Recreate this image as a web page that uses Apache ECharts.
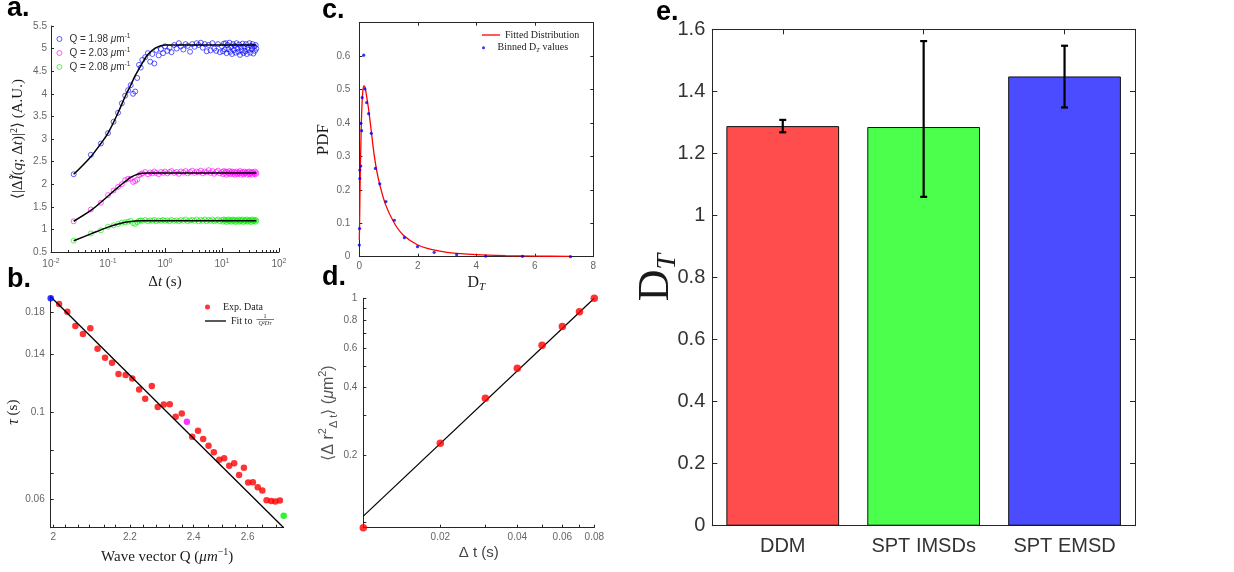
<!DOCTYPE html>
<html>
<head>
<meta charset="utf-8">
<script src="https://cdn.jsdelivr.net/npm/echarts@6.0.0/dist/echarts.min.js"></script>
<style>
html,body{margin:0;padding:0;background:#fff;}
#chart{width:1234px;height:572px;}
</style>
</head>
<body>
<div id="chart"></div>
<script>
// ================= Panel a: structure function vs lag time =================
const aLag = [0.025,0.05,0.075,0.1,0.125,0.15,0.175,0.2,0.225,0.25,
  0.275,0.3,0.325,0.35,0.375,0.4,0.45,0.5,0.55,0.6,
  0.65,0.7,0.775,0.85,0.925,1.0,1.1,1.2,1.3,1.45,
  1.6,1.75,1.9,2.1,2.3,2.5,2.75,3.0,3.3,3.6,
  3.9,4.25,4.6,5.0,5.4,5.85,6.3,6.8,7.3,7.9,
  8.5,9.2,
  10,10.4,10.8,11.2,11.6,12,12.5,13,13.5,14,
  14.5,15,15.6,16.2,16.8,17.4,18,18.6,19.3,20,
  20.7,21.4,22.2,23,23.8,24.6,25.5,26.4,27.3,28.2,
  29.2,30.2,31.2,32.2,33.3,34.4,35.5,36.6,37.8,39,40];
const aBlue = [2.22,2.65,2.90,3.13,3.38,3.58,3.79,3.96,4.08,4.19,
  4.00,4.05,4.35,4.64,4.58,4.75,4.81,4.90,4.71,4.88,
  4.67,4.97,4.85,4.99,4.90,5.05,4.95,5.02,4.92,5.08,
  5.00,5.12,5.05,4.98,5.10,5.06,4.93,5.10,5.04,5.12,
  5.08,5.13,5.02,5.10,4.94,5.08,4.96,5.12,5.00,4.95,
  5.10,4.92,
  5.05,4.94,5.11,4.98,5.12,4.90,5.08,4.99,5.13,4.93,
  5.04,4.88,5.10,4.97,5.06,4.91,5.12,5.00,4.93,5.09,
  4.86,5.03,4.96,5.11,4.90,5.05,4.94,5.10,4.88,5.02,
  4.97,5.12,4.91,5.06,4.99,5.10,4.89,5.04,4.95,5.08,5.00];
const aMagenta = [1.18,1.44,1.59,1.76,1.86,1.94,2.00,2.09,2.12,2.12,
  2.05,2.07,2.10,2.20,2.22,2.24,2.27,2.22,2.26,2.24,
  2.28,2.25,2.22,2.27,2.25,2.28,2.24,2.27,2.29,2.25,
  2.27,2.23,2.28,2.26,2.29,2.24,2.27,2.30,2.25,2.28,
  2.26,2.30,2.24,2.28,2.26,2.31,2.25,2.29,2.23,2.27,
  2.30,2.24,
  2.27,2.22,2.29,2.25,2.28,2.21,2.27,2.24,2.29,2.22,
  2.26,2.28,2.23,2.27,2.21,2.25,2.28,2.22,2.26,2.24,
  2.29,2.21,2.25,2.27,2.22,2.28,2.24,2.26,2.21,2.27,
  2.23,2.28,2.22,2.25,2.27,2.21,2.26,2.23,2.28,2.22,2.25];
const aGreen = [0.75,0.91,0.98,1.06,1.09,1.12,1.15,1.16,1.17,1.19,
  1.14,1.12,1.16,1.19,1.20,1.19,1.21,1.18,1.20,1.19,
  1.21,1.18,1.20,1.19,1.21,1.19,1.20,1.18,1.21,1.19,
  1.20,1.18,1.21,1.19,1.22,1.18,1.20,1.21,1.19,1.22,
  1.18,1.21,1.19,1.22,1.18,1.21,1.19,1.22,1.18,1.20,
  1.22,1.18,
  1.21,1.17,1.22,1.19,1.21,1.16,1.20,1.22,1.18,1.21,
  1.17,1.20,1.22,1.18,1.21,1.16,1.20,1.19,1.22,1.17,
  1.21,1.18,1.20,1.22,1.16,1.19,1.21,1.18,1.22,1.17,
  1.20,1.19,1.21,1.16,1.20,1.22,1.18,1.19,1.21,1.17,1.20];
const aFitLag = [0.025,0.05,0.075,0.1,0.15,0.2,0.25,0.3,0.4,0.5,0.7,1,2,40];
const aFitBlue = [2.22,2.61,2.90,3.13,3.58,3.94,4.19,4.40,4.68,4.87,5.02,5.08,5.08,5.08];
const aFitMagenta = [1.18,1.42,1.60,1.74,1.93,2.06,2.15,2.20,2.24,2.25,2.25,2.25,2.25,2.25];
const aFitGreen = [0.75,0.90,0.99,1.05,1.12,1.16,1.175,1.185,1.19,1.19,1.19,1.19,1.19,1.19];
const aSeriesNames = ['Q = 1.98','Q = 2.03','Q = 2.08'];
const aMinorTicks = [0.02,0.03,0.04,0.05,0.06,0.07,0.08,0.09,
  0.2,0.3,0.4,0.5,0.6,0.7,0.8,0.9,2,3,4,5,6,7,8,9,20,30,40,50,60,70,80,90];

// ================= Panel b: decay time vs wave vector =================
const bQ = [1.994,2.014,2.034,2.054,2.073,2.092,2.111,2.131,2.150,2.168,
  2.188,2.207,2.227,2.245,2.265,2.283,2.302,2.321,2.340,2.360,
  2.377,2.395,2.415,2.433,2.452,2.471,2.491,2.509,2.528,2.547,
  2.566,2.585,2.602,2.621,2.641,2.660,2.678,2.698,2.716,2.736,2.753];
const bTau = [0.1947,0.1883,0.1800,0.1655,0.1580,0.1634,0.1449,0.1375,0.1335,0.1250,
  0.1243,0.1217,0.1141,0.1081,0.1166,0.1031,0.1046,0.1047,0.0973,0.0992,
  0.0945,0.0866,0.0896,0.0854,0.0821,0.0790,0.0756,0.0763,0.0730,0.0741,
  0.0692,0.0722,0.0662,0.0663,0.0644,0.0632,0.0597,0.0594,0.0592,0.0596,0.0545];
const bHighlight = [0, 20, 40];
const bFitQ = [1.994, 2.753];
const bFitTau = [0.1966, 0.0508];
const bQRange = [1.994, 2.753];
const bTauRange = [0.0508, 0.1966];
const bXLabels = [2, 2.2, 2.4, 2.6];
const bXTicks = [2,2.03,2.06,2.09,2.13,2.16,2.2,2.24,2.28,2.32,2.36,2.4,2.45,2.5,2.55,2.6,2.66,2.72];
const bYLabels = [0.06, 0.1, 0.14, 0.18];
const bYTicks = [0.06, 0.07, 0.08, 0.1, 0.14, 0.18];

// ================= Panel c: PDF of D_T =================
const cBinD = [0,0.01,0.02,0.02,0.05,0.05,0.08,0.10,0.15,0.19,0.25,0.32,0.41,0.55,0.70,0.91,1.20,1.54,1.99,2.56,3.33,4.32,5.58,7.22];
const cBinPdf = [0.035,0.084,0.234,0.259,0.271,0.399,0.377,0.476,0.603,0.502,0.461,0.428,0.369,0.264,0.218,0.165,0.109,0.057,0.030,0.013,0.006,0.002,0.001,0.0];
const cFitD = [0,0.01,0.02,0.035,0.05,0.07,0.09,0.12,0.16,0.2,0.25,0.32,0.41,0.5,0.6,0.7,0.9,1.2,1.5,2.0,2.5,3.0,4.0,5.0,6.0,7.22];
const cFitPdf = [0.05,0.10,0.17,0.26,0.32,0.40,0.45,0.495,0.512,0.505,0.48,0.44,0.375,0.31,0.255,0.215,0.155,0.10,0.065,0.035,0.021,0.013,0.006,0.003,0.0018,0.001];

// ================= Panel d: MSD vs lag =================
const dLag = [0.01,0.02,0.03,0.04,0.05,0.06,0.07,0.08];
const dMsd = [0.095,0.226,0.359,0.488,0.618,0.748,0.872,1.0];
const dFitLag = [0.01, 0.08];
const dFitMsd = [0.107, 1.0];
const dXRange = [0.01, 0.08];
const dYRange = [0.095, 1];
const dXLabels = [0.02, 0.04, 0.06, 0.08];
const dXTicks = [0.01,0.02,0.03,0.04,0.05,0.06,0.07,0.08];
const dYLabels = [0.2, 0.4, 0.6, 0.8, 1];
const dYTicks = [0.1,0.2,0.3,0.4,0.5,0.6,0.7,0.8,0.9,1];

// ================= Panel e: D_T comparison =================
const eCats = ['DDM', 'SPT IMSDs', 'SPT EMSD'];
const eVals = [1.288, 1.285, 1.448];
const eLow = [1.268, 1.060, 1.348];
const eHigh = [1.308, 1.562, 1.547];

// ---------------- styling ----------------
const SANS = 'Liberation Sans, Helvetica, Arial, sans-serif';
const SERIF = 'Liberation Serif, Times New Roman, serif';
const TICKC = '#666';
const AXC = '#262626';
const NAMEC = '#1a1a1a';
const eColors = ['#ff4d4d', '#4dff4d', '#4b4bff'];
const lg = Math.log10;
const fmtPow = v => String(+Math.pow(10, v).toPrecision(2));

function line(show) { return {show: show, onZero: false, lineStyle: {color: AXC, width: 1}}; }
function ticks(len, extra) { return Object.assign({show: true, inside: true, length: len, lineStyle: {color: AXC, width: 1}}, extra || {}); }
function lbl(extra) { return Object.assign({show: true, color: TICKC, fontFamily: SANS, fontSize: 10}, extra || {}); }
const noLbl = {show: false};
const noSplit = {show: false};

const chart = echarts.init(document.getElementById('chart'), null, {renderer: 'canvas'});

const grids = [
  {left: 51, top: 26, width: 228, height: 226},
  {left: 50.7, top: 296.7, width: 233, height: 231},
  {left: 359.3, top: 22.7, width: 234, height: 234},
  {left: 363.3, top: 298.3, width: 231, height: 229.4},
  {left: 712.3, top: 29.3, width: 422.7, height: 496.4}
].map(g => Object.assign({containLabel: false, outerBoundsMode: 'none'}, g));

const xAxis = [
  // 0: panel a main log axis
  {gridIndex: 0, type: 'log', logBase: 10, min: 0.01, max: 100, position: 'bottom',
   axisLine: line(true), axisTick: ticks(4), splitLine: noSplit,
   axisLabel: lbl({margin: 6, lineHeight: 13, formatter: v => '10{sup|' + Math.round(lg(v)) + '}',
     rich: {sup: {fontSize: 7, verticalAlign: 'top', lineHeight: 7, color: TICKC, fontFamily: SANS}}}),
   name: 'Δ{i|t} (s)', nameLocation: 'middle', nameGap: 23,
   nameTextStyle: {fontFamily: SERIF, fontSize: 15, color: NAMEC,
     rich: {i: {fontFamily: SERIF, fontSize: 15, fontStyle: 'italic', color: NAMEC}}}},
  // 1: panel a minor ticks
  {gridIndex: 0, type: 'value', min: -2, max: 2, position: 'bottom', axisLine: line(false),
   axisTick: ticks(2, {customValues: aMinorTicks.map(lg)}), axisLabel: noLbl, splitLine: noSplit},
  // 2: panel b (scale linear in 1/Q)
  {gridIndex: 1, type: 'value', inverse: true, min: 1 / bQRange[1], max: 1 / bQRange[0], position: 'bottom',
   axisLine: line(true), axisTick: ticks(3, {customValues: bXTicks.map(q => 1 / q)}), splitLine: noSplit,
   axisLabel: lbl({margin: 5, customValues: bXLabels.map(q => 1 / q), formatter: v => String(Math.round(10 / v) / 10)}),
   name: 'Wave vector Q ({i|μm}{sup|−1})', nameLocation: 'middle', nameGap: 20,
   nameTextStyle: {fontFamily: SERIF, fontSize: 15, color: NAMEC, lineHeight: 18,
     rich: {i: {fontFamily: SERIF, fontSize: 15, fontStyle: 'italic', color: NAMEC, lineHeight: 18},
            sup: {fontFamily: SERIF, fontSize: 10, verticalAlign: 'top', lineHeight: 10, color: NAMEC}}}},
  // 3: panel c bottom
  {gridIndex: 2, type: 'value', min: 0, max: 8, interval: 2, position: 'bottom',
   axisLine: line(true), axisTick: ticks(3), splitLine: noSplit,
   axisLabel: lbl({margin: 5, showMinLabel: true, showMaxLabel: true}),
   name: 'D{sub|T}', nameLocation: 'middle', nameGap: 14,
   nameTextStyle: {fontFamily: SERIF, fontSize: 16, color: NAMEC, lineHeight: 20,
     rich: {sub: {fontFamily: SERIF, fontSize: 11, fontStyle: 'italic', verticalAlign: 'bottom', lineHeight: 11, color: NAMEC}}}},
  // 4: panel c top (box)
  {gridIndex: 2, type: 'value', min: 0, max: 8, interval: 2, position: 'top',
   axisLine: line(true), axisTick: ticks(3), axisLabel: noLbl, splitLine: noSplit},
  // 5: panel d main log axis
  {gridIndex: 3, type: 'log', logBase: 10, min: dXRange[0], max: dXRange[1], position: 'bottom',
   axisLine: line(true), axisTick: {show: false}, axisLabel: noLbl, splitLine: noSplit},
  // 6: panel d ticks/labels (log10 space)
  {gridIndex: 3, type: 'value', min: lg(dXRange[0]), max: lg(dXRange[1]), position: 'bottom',
   axisLine: line(false), axisTick: ticks(3, {customValues: dXTicks.map(lg)}), splitLine: noSplit,
   axisLabel: lbl({margin: 5, customValues: dXLabels.map(lg), formatter: fmtPow}),
   name: 'Δ t (s)', nameLocation: 'middle', nameGap: 18,
   nameTextStyle: {fontFamily: SANS, fontSize: 15, color: '#444'}},
  // 7: panel e categories
  {gridIndex: 4, type: 'category', data: eCats, position: 'bottom',
   axisLine: line(true), axisTick: ticks(5, {alignWithLabel: true}), splitLine: noSplit,
   axisLabel: {show: true, color: '#333', fontFamily: SANS, fontSize: 20, margin: 11}},
  // 8: panel e top (box)
  {gridIndex: 4, type: 'category', data: eCats, position: 'top',
   axisLine: line(true), axisTick: ticks(5, {alignWithLabel: true}), axisLabel: noLbl, splitLine: noSplit}
];

const yAxis = [
  // 0: panel a
  {gridIndex: 0, type: 'value', min: 0.5, max: 5.5, interval: 0.5, position: 'left',
   axisLine: line(true), axisTick: ticks(3), splitLine: noSplit,
   axisLabel: lbl({margin: 4, showMinLabel: true, showMaxLabel: true}),
   name: '⟨|Δ{i|Ĩ}({i|q}; Δ{i|t})|{sup|2}⟩ (A.U.)', nameLocation: 'middle', nameRotate: 90, nameGap: 24,
   nameTextStyle: {fontFamily: SERIF, fontSize: 15, color: NAMEC, lineHeight: 18,
     rich: {i: {fontFamily: SERIF, fontSize: 15, fontStyle: 'italic', color: NAMEC, lineHeight: 18},
            sup: {fontFamily: SERIF, fontSize: 10, verticalAlign: 'top', lineHeight: 10, color: NAMEC}}}},
  // 1: panel b main log axis
  {gridIndex: 1, type: 'log', logBase: 10, min: bTauRange[0], max: bTauRange[1], position: 'left',
   axisLine: line(true), axisTick: {show: false}, axisLabel: noLbl, splitLine: noSplit},
  // 2: panel b ticks/labels (log10 space)
  {gridIndex: 1, type: 'value', min: lg(bTauRange[0]), max: lg(bTauRange[1]), position: 'left',
   axisLine: line(false), axisTick: ticks(3, {customValues: bYTicks.map(lg)}), splitLine: noSplit,
   axisLabel: lbl({margin: 6, customValues: bYLabels.map(lg), formatter: fmtPow}),
   name: '{i|τ} (s)', nameLocation: 'middle', nameRotate: 90, nameGap: 27,
   nameTextStyle: {fontFamily: SERIF, fontSize: 15, color: NAMEC,
     rich: {i: {fontFamily: SERIF, fontSize: 16, fontStyle: 'italic', color: NAMEC}}}},
  // 3: panel c left
  {gridIndex: 2, type: 'value', min: 0, max: 0.7, interval: 0.1, position: 'left',
   axisLine: line(true), axisTick: ticks(3), splitLine: noSplit,
   axisLabel: lbl({margin: 9, showMinLabel: true, showMaxLabel: false}),
   name: 'PDF', nameLocation: 'middle', nameRotate: 90, nameGap: 24,
   nameTextStyle: {fontFamily: SERIF, fontSize: 17, color: NAMEC}},
  // 4: panel c right (box)
  {gridIndex: 2, type: 'value', min: 0, max: 0.7, interval: 0.1, position: 'right',
   axisLine: line(true), axisTick: ticks(3), axisLabel: noLbl, splitLine: noSplit},
  // 5: panel d main log axis
  {gridIndex: 3, type: 'log', logBase: 10, min: dYRange[0], max: dYRange[1], position: 'left',
   axisLine: line(true), axisTick: {show: false}, axisLabel: noLbl, splitLine: noSplit},
  // 6: panel d ticks/labels (log10 space)
  {gridIndex: 3, type: 'value', min: lg(dYRange[0]), max: lg(dYRange[1]), position: 'left',
   axisLine: line(false), axisTick: ticks(3, {customValues: dYTicks.map(lg)}), splitLine: noSplit,
   axisLabel: lbl({margin: 6, customValues: dYLabels.map(lg), formatter: fmtPow}),
   name: '⟨Δ r{sup|2}{sub|Δ t}⟩ ({i|μ}m{sup|2})', nameLocation: 'middle', nameRotate: 90, nameGap: 24,
   nameTextStyle: {fontFamily: SANS, fontSize: 16, color: '#555', lineHeight: 22,
     rich: {sup: {fontFamily: SANS, fontSize: 11, verticalAlign: 'top', lineHeight: 11, color: '#555'},
            sub: {fontFamily: SANS, fontSize: 11, verticalAlign: 'bottom', lineHeight: 11, color: '#555'},
            i: {fontFamily: SANS, fontSize: 16, fontStyle: 'italic', color: '#555', lineHeight: 22}}}},
  // 7: panel e left
  {gridIndex: 4, type: 'value', min: 0, max: 1.6, interval: 0.2, position: 'left',
   axisLine: line(true), axisTick: ticks(5), splitLine: noSplit,
   axisLabel: {show: true, color: '#333', fontFamily: SANS, fontSize: 20, margin: 7, showMinLabel: true, showMaxLabel: true,
     formatter: v => String(+v.toFixed(1))},
   name: 'D{sub|T}', nameLocation: 'middle', nameRotate: 90, nameGap: 31, nameMoveOverlap: false,
   nameTextStyle: {fontFamily: SERIF, fontSize: 44, color: NAMEC, lineHeight: 50,
     rich: {sub: {fontFamily: SERIF, fontSize: 28, fontStyle: 'italic', verticalAlign: 'bottom', lineHeight: 28, color: NAMEC}}}},
  // 8: panel e right (box)
  {gridIndex: 4, type: 'value', min: 0, max: 1.6, interval: 0.2, position: 'right',
   axisLine: line(true), axisTick: ticks(5), axisLabel: noLbl, splitLine: noSplit}
];

const hollow = c => ({color: 'rgba(0,0,0,0)', borderColor: c, borderWidth: 0.8});
const series = [];
// panel a scatter + fits
[[aBlue, '#0000ff'], [aMagenta, '#ff00ff'], [aGreen, '#00ee00']].forEach((p, k) => {
  series.push({name: aSeriesNames[k], type: 'scatter', xAxisIndex: 0, yAxisIndex: 0, clip: false,
    symbol: 'circle', symbolSize: 5, itemStyle: hollow(p[1]), silent: true,
    data: aLag.map((t, i) => [t, p[0][i]])});
});
[aFitBlue, aFitMagenta, aFitGreen].forEach((f, k) => {
  series.push({name: 'fitA' + k, type: 'line', xAxisIndex: 0, yAxisIndex: 0, smooth: 0.35,
    symbol: 'none', showSymbol: false, lineStyle: {color: '#000', width: 1.5}, z: 4, silent: true,
    data: aFitLag.map((t, i) => [t, f[i]])});
});
// panel b
series.push({name: 'Exp. Data', type: 'scatter', xAxisIndex: 2, yAxisIndex: 1, clip: false,
  symbol: 'circle', symbolSize: 6.5, itemStyle: {color: '#ff0000'}, silent: true,
  data: bQ.map((q, i) => [1 / q, bTau[i]]).filter((d, i) => bHighlight.indexOf(i) < 0)});
['#0000ff', '#ff00ff', '#00ee00'].forEach((c, k) => {
  const i = bHighlight[k];
  series.push({name: 'hl' + k, type: 'scatter', xAxisIndex: 2, yAxisIndex: 1, clip: false,
    symbol: 'circle', symbolSize: 6.5, itemStyle: {color: c}, silent: true, z: 5,
    data: [[1 / bQ[i], bTau[i]]]});
});
series.push({name: 'Fit', type: 'line', xAxisIndex: 2, yAxisIndex: 1, symbol: 'none', showSymbol: false,
  itemStyle: {color: '#000'}, lineStyle: {color: '#000', width: 1.3}, silent: true, z: 3,
  data: bFitQ.map((q, i) => [1 / q, bFitTau[i]])});
// panel c
series.push({name: 'Fitted Distribution', type: 'line', xAxisIndex: 3, yAxisIndex: 3, smooth: 0.3,
  symbol: 'none', showSymbol: false, itemStyle: {color: '#ff0000'}, lineStyle: {color: '#ff0000', width: 1.3}, silent: true,
  data: cFitD.map((d, i) => [d, cFitPdf[i]])});
series.push({name: 'Binned', type: 'scatter', xAxisIndex: 3, yAxisIndex: 3, clip: false,
  symbol: 'circle', symbolSize: 3.2, itemStyle: {color: '#0000ff'}, silent: true, z: 5,
  data: cBinD.map((d, i) => [d, cBinPdf[i]])});
// panel d
series.push({name: 'fitD', type: 'line', xAxisIndex: 5, yAxisIndex: 5, symbol: 'none', showSymbol: false,
  lineStyle: {color: '#000', width: 1.2}, silent: true, z: 2,
  data: dFitLag.map((t, i) => [t, dFitMsd[i]])});
series.push({name: 'msd', type: 'scatter', xAxisIndex: 5, yAxisIndex: 5, clip: false,
  symbol: 'circle', symbolSize: 7.5, itemStyle: {color: '#ff0000'}, silent: true, z: 4,
  data: dLag.map((t, i) => [t, dMsd[i]])});
// panel e
series.push({name: 'DT', type: 'bar', xAxisIndex: 7, yAxisIndex: 7, barWidth: '80%', silent: true,
  itemStyle: {borderColor: '#111', borderWidth: 1},
  data: eVals.map((v, i) => ({value: v, itemStyle: {color: eColors[i]}}))});
series.push({name: 'err', type: 'custom', xAxisIndex: 7, yAxisIndex: 7, silent: true, z: 5,
  data: eCats.map((c, i) => [i, eLow[i], eHigh[i]]),
  renderItem: (params, api) => {
    const lo = api.coord([api.value(0), api.value(1)]);
    const hi = api.coord([api.value(0), api.value(2)]);
    const x = lo[0], w = 3.5;
    const st = {stroke: '#000', lineWidth: 2.2};
    return {type: 'group', children: [
      {type: 'line', shape: {x1: x, y1: lo[1], x2: x, y2: hi[1]}, style: st},
      {type: 'line', shape: {x1: x - w, y1: lo[1], x2: x + w, y2: lo[1]}, style: st},
      {type: 'line', shape: {x1: x - w, y1: hi[1], x2: x + w, y2: hi[1]}, style: st}
    ]};
  }});

const legendText = (ff, size, color) => ({fontFamily: ff, fontSize: size, color: color, lineHeight: 12});
const legend = [
  {data: aSeriesNames, left: 56.5, top: 33, padding: 0, orient: 'vertical', itemWidth: 10, itemHeight: 5, itemGap: 2,
   icon: 'circle', selectedMode: false, itemStyle: {borderWidth: 0.8},
   formatter: n => n + ' {i|μ}m{sup|-1}',
   textStyle: Object.assign(legendText(SANS, 10, '#333'), {
     rich: {i: {fontFamily: SANS, fontSize: 10, fontStyle: 'italic', color: '#333', lineHeight: 12},
            sup: {fontFamily: SANS, fontSize: 6.5, verticalAlign: 'top', lineHeight: 7, color: '#333'}}})},
  {data: ['Exp. Data'], left: 205, top: 301, padding: 0, itemWidth: 21, itemHeight: 5, icon: 'circle', selectedMode: false,
   textStyle: legendText(SERIF, 10, '#222')},
  {data: [{name: 'Fit', icon: 'rect'}], left: 205, top: 315, padding: 0, itemWidth: 21, itemHeight: 1.3, selectedMode: false,
   formatter: () => 'Fit to', textStyle: legendText(SERIF, 10, '#222')},
  {data: [{name: 'Fitted Distribution', icon: 'rect'}], left: 482, top: 29, padding: 0, itemWidth: 18, itemHeight: 1.3, selectedMode: false,
   textStyle: legendText(SERIF, 10, '#222')},
  {data: ['Binned'], left: 482, top: 41.7, padding: 0, itemWidth: 18, itemHeight: 3, icon: 'circle', selectedMode: false,
   formatter: () => 'Binned D{sub|T} values',
   textStyle: Object.assign(legendText(SERIF, 10, '#222'), {
     rich: {sub: {fontFamily: SERIF, fontSize: 7, fontStyle: 'italic', verticalAlign: 'bottom', lineHeight: 8, color: '#222'}}})}
];

const letter = (t, x, y) => ({type: 'text', x: x, y: y, silent: true,
  style: {text: t, font: 'bold 27px Liberation Sans, Arial, sans-serif', fill: '#000', verticalAlign: 'middle'}});

const graphic = [
  letter('a.', 7, 9),
  letter('b.', 7, 280),
  letter('c.', 322, 11),
  letter('d.', 322, 278),
  letter('e.', 656, 13),
  // fraction 1/(Q^2 D_T) in legend of panel b
  {type: 'text', x: 265, y: 316, silent: true,
   style: {text: '1', font: '6px Liberation Serif', fill: '#222', align: 'center', verticalAlign: 'middle'}},
  {type: 'line', silent: true, shape: {x1: 256.5, y1: 319.5, x2: 274, y2: 319.5}, style: {stroke: '#222', lineWidth: 0.6}},
  {type: 'text', x: 265, y: 323.5, silent: true,
   style: {text: '{a|Q²D}{s|T}', align: 'center', verticalAlign: 'middle',
     rich: {a: {font: 'italic 6px Liberation Serif', fill: '#222'}, s: {font: 'italic 4.5px Liberation Serif', fill: '#222', verticalAlign: 'bottom'}}}}
];

chart.setOption({
  animation: false,
  backgroundColor: '#fff',
  grid: grids,
  xAxis: xAxis,
  yAxis: yAxis,
  legend: legend,
  series: series,
  graphic: graphic
});
</script>
</body>
</html>
